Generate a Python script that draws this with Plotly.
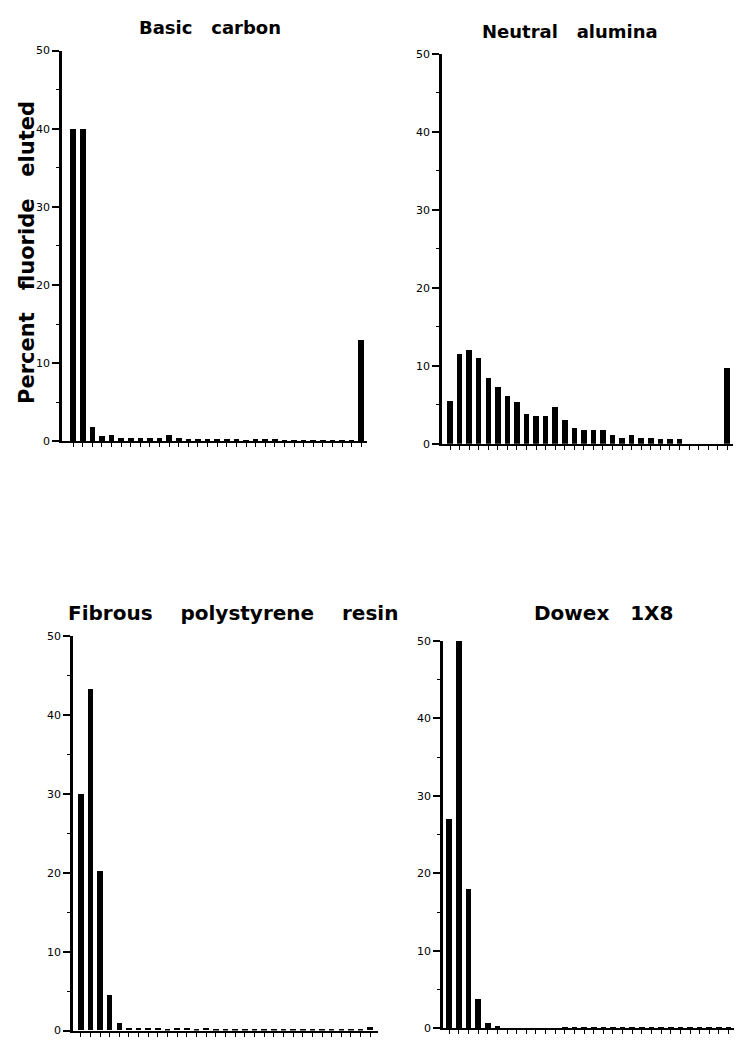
import plotly.graph_objects as go

# The page body has an 8px default margin, so the figure is drawn 8px in.
OFF = 8
W, H = 742 - OFF, 1044 - OFF

# ---------------- data (percent fluoride eluted per fraction) ----------------
titles = ["Basic carbon", "Neutral alumina", "Fibrous polystyrene resin", "Dowex 1X8"]

basic_carbon = [40, 40, 1.9, 0.7, 0.9, 0.5, 0.5, 0.5, 0.5, 0.5,
                0.8, 0.5, 0.3, 0.3, 0.3, 0.3, 0.3, 0.3, 0.2, 0.4,
                0.4, 0.4, 0.1, 0.1, 0.1, 0.1, 0.1, 0.1, 0.2, 0.2,
                13]
neutral_alumina = [5.5, 11.5, 12, 11, 8.5, 7.3, 6.1, 5.4, 3.8, 3.6,
                   3.6, 4.8, 3.1, 2.0, 1.8, 1.8, 1.8, 1.2, 0.8, 1.2,
                   0.8, 0.8, 0.6, 0.7, 0.7, 0, 0, 0, 0, 9.8]
fibrous_resin = [30, 43.3, 20.2, 4.5, 0.9, 0.3, 0.3, 0.3, 0.3, 0.1,
                 0.3, 0.3, 0.1, 0.3, 0.1, 0.1, 0.2, 0.1, 0.1, 0.1,
                 0.1, 0.1, 0.1, 0.1, 0.1, 0.1, 0.1, 0.1, 0.2, 0.2,
                 0.4]
dowex_1x8 = [27, 50, 18, 3.8, 0.7, 0.3, 0.05, 0.05, 0.05, 0.05,
             0.05, 0.05, 0.1, 0.1, 0.1, 0.1, 0.1, 0.1, 0.1, 0.1,
             0.1, 0.1, 0.1, 0.2, 0.2, 0.2, 0.2, 0.2, 0.2, 0.2,
             1.3]

series = [basic_carbon, neutral_alumina, fibrous_resin, dowex_1x8]
y_ticks = [0, 10, 20, 30, 40, 50]
y_label = "Percent   fluoride   eluted"

# ---------------- layout geometry (page pixels) ----------------
# (x_left, x_right, y_top, y_bottom, x_range)
panels = [
    (62, 367, 45, 440.7, [-0.16, 31.6]),
    (442, 733, 48.3, 443.3, [0.16, 30.6]),
    (73, 378, 638, 1037.5, [0.2, 31.8]),
    (443, 742, 642.7, 1035.3, [0.35, 31.4]),
]
title_pos = [(210, 22), (570, 26), (233, 615), (603, 615)]
title_size = [18, 18, 20, 20]
title_gap = [3, 3, 4, 3]

TFONT = "DejaVu Sans"


def px(x):
    return (x - OFF) / W


def py(y):
    return (H - (y - OFF)) / H


fig = go.Figure()
layout = dict(
    width=W, height=H,
    margin=dict(l=0, r=0, t=0, b=0),
    paper_bgcolor="white", plot_bgcolor="white",
    showlegend=False, bargap=0,
    annotations=[],
)

for i, (vals, (xl, xr, yt, yb, xr_)) in enumerate(zip(series, panels)):
    n = i + 1
    sfx = str(n) if n > 1 else ""
    xs = list(range(1, len(vals) + 1))
    fig.add_trace(go.Bar(
        x=xs, y=vals, width=0.58,
        marker=dict(color="black", line=dict(width=0)),
        xaxis="x" + sfx, yaxis="y" + sfx,
    ))
    layout["xaxis" + sfx] = dict(
        domain=[px(xl), px(xr)], range=xr_, anchor="y" + sfx,
        showline=True, linecolor="black", linewidth=2,
        ticks="outside", tickvals=xs, ticklen=4, tickwidth=1, tickcolor="black",
        showticklabels=False, showgrid=False, zeroline=False, fixedrange=True,
    )
    layout["yaxis" + sfx] = dict(
        domain=[py(yb), py(yt)], range=[0, 50], anchor="x" + sfx,
        showline=True, linecolor="black", linewidth=2.5,
        ticks="outside", tickvals=y_ticks, ticklen=7, tickwidth=1.5, tickcolor="black",
        minor=dict(dtick=5, ticks="outside", ticklen=3, tickwidth=1, tickcolor="black"),
        tickfont=dict(family=TFONT, size=11, color="black"),
        showgrid=False, zeroline=False, fixedrange=True,
    )
    tx, ty = title_pos[i]
    gap = "\u00a0" * (title_gap[i] - 1) + " "
    layout["annotations"].append(dict(
        text="<b>" + titles[i].replace(" ", gap) + "</b>",
        x=px(tx), y=py(ty), xref="paper", yref="paper",
        xanchor="center", yanchor="middle", showarrow=False,
        font=dict(family=TFONT, size=title_size[i], color="black"),
    ))

layout["annotations"].append(dict(
    text="<b>" + y_label.replace("   ", "\u00a0\u00a0 ") + "</b>",
    x=px(27), y=py(250), xref="paper", yref="paper",
    xanchor="center", yanchor="middle", showarrow=False, textangle=-90,
    font=dict(family=TFONT, size=21, color="black"),
))

fig.update_layout(**layout)
fig.write_html("out.html")
